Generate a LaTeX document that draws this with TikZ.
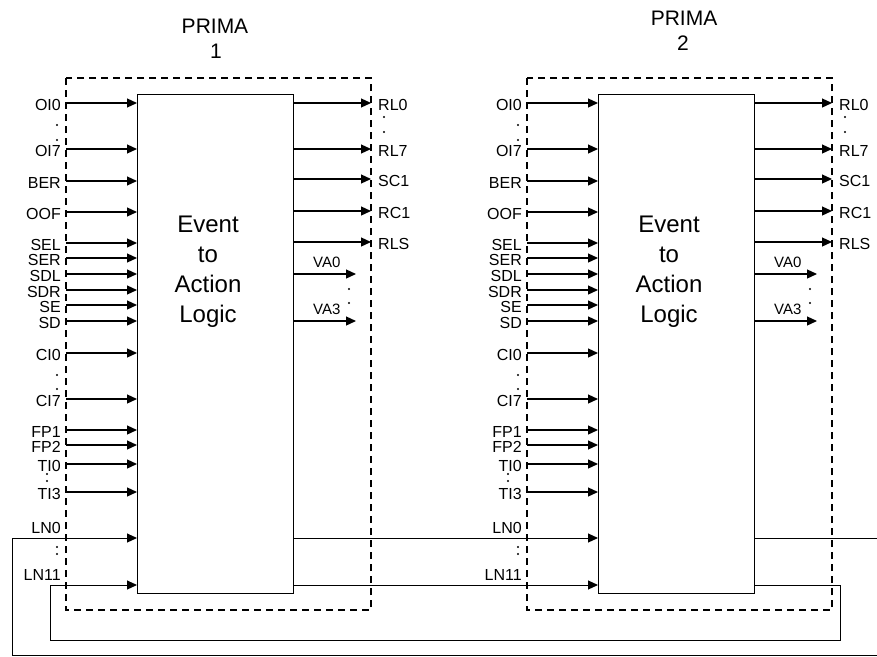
\documentclass[tikz,border=0pt]{standalone}
\usepackage{fontspec}
\setmainfont{Liberation Sans}
\usetikzlibrary{arrows.meta}
\tikzset{
  sbox/.style={draw, line width=1.4pt, inner sep=0pt, minimum width=156pt, minimum height=499pt, anchor=north west},
  dashbox/.style={draw, line width=1.5pt, dash pattern=on 7pt off 5pt},
  sig/.style={line width=1.2pt, -{Triangle[length=10pt,width=9pt]}},
  wire/.style={line width=1pt},
  lab/.style={font=\fontsize{16}{16}\selectfont, inner sep=0pt},
  vlab/.style={font=\fontsize{15}{15}\selectfont, inner sep=0pt},
  ttl/.style={font=\fontsize{21}{21}\selectfont, inner sep=0pt, anchor=base},
  evt/.style={font=\fontsize{24}{30}\selectfont, align=center, inner sep=0pt},
  dotc/.style={fill=black, circle, inner sep=0pt, minimum size=2.2pt}
}
\begin{document}
\begin{tikzpicture}[x=1pt,y=-1pt]
\useasboundingbox (0,0) rectangle (877,656);
% titles
\node[ttl] (t1a) at (215,33) {PRIMA};
\node[ttl] (t1b) at (216,58) {1};
\node[ttl] (t2a) at (684,25) {PRIMA};
\node[ttl] (t2b) at (683,50) {2};
\foreach \o/\n in {0/1, 461/2} {
  \draw[dashbox] (66+\o,78) rectangle (371+\o,610);
  \node[sbox] (box\n) at (137+\o,94) {};
  \node[evt] (ev\n) at (208+\o,272) {Event\\to\\Action\\Logic};
  % inputs
  \foreach \t/\y in {OI0/103, OI7/149, BER/181, OOF/212, SEL/243, SER/258, SDL/274, SDR/290, SE/305, SD/321, CI0/353, CI7/399, FP1/430, FP2/445, TI0/464, TI3/492} {
    \coordinate (in\n\t) at (66+\o,\y);
    \draw[sig] (in\n\t) -- (box\n.west |- in\n\t);
    \node[lab, anchor=base east] (l\n\t) at (61+\o,\y+7) {\t};
  }
  \node[lab, anchor=base east] (l\n LN0) at (61+\o,533) {LN0};
  \node[lab, anchor=base east] (l\n LN11) at (61+\o,580) {LN11};
  % outputs
  \foreach \t/\y in {RL0/103, RL7/149, SC1/179, RC1/211, RLS/242} {
    \coordinate (out\n\t) at (371+\o,\y);
    \draw[sig] (box\n.east |- out\n\t) -- (out\n\t);
    \node[lab, anchor=base west] (l\n\t) at (378+\o,\y+7) {\t};
  }
  \foreach \t/\y in {VA0/274, VA3/321} {
    \coordinate (out\n\t) at (356+\o,\y);
    \draw[sig] (box\n.east |- out\n\t) -- (out\n\t);
    \node[vlab, anchor=base west] (l\n\t) at (313+\o,\y-7) {\t};
  }
  % dots
  \foreach \x/\y in {57/125, 57/140, 57/375, 57/389, 47/474, 47/481, 57/547, 57/554, 384/117, 384/132, 349/289, 349/303} {
    \node[dotc] at (\x+\o,\y) {};
  }
}
% connectors
\coordinate (c1) at (12,538);
\coordinate (c2) at (12,655);
\coordinate (c3) at (877,655);
\coordinate (c4) at (877,538);
\coordinate (d1) at (50,585);
\coordinate (d2) at (50,640);
\coordinate (d3) at (840,640);
\coordinate (d4) at (840,585);
\draw[wire] (c3) -- (c2) -- (c1);
\draw[sig, line width=1pt] (c1) -- (box1.west |- c1);
\draw[sig, line width=1pt] (box1.east |- c1) -- (box2.west |- c1);
\draw[sig, line width=1pt] (box1.east |- d1) -- (box2.west |- d1);
\draw[wire] (box2.east |- c1) -- (c4);
\draw[wire] (box2.east |- d4) -- (d4) -- (d3) -- (d2) -- (d1);
\draw[sig, line width=1pt] (d1) -- (box1.west |- d1);
\end{tikzpicture}
\end{document}
